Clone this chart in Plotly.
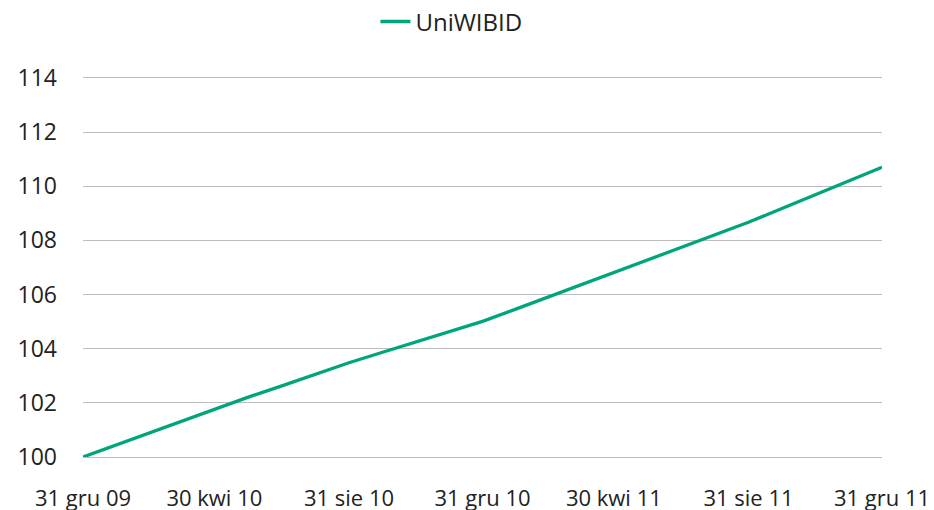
import plotly.graph_objects as go

# Data (month-end index values)
dates = [
    "2009-12-31", "2010-01-31", "2010-02-28", "2010-03-31", "2010-04-30",
    "2010-05-31", "2010-06-30", "2010-07-31", "2010-08-31", "2010-09-30",
    "2010-10-31", "2010-11-30", "2010-12-31", "2011-01-31", "2011-02-28",
    "2011-03-31", "2011-04-30", "2011-05-31", "2011-06-30", "2011-07-31",
    "2011-08-31", "2011-09-30", "2011-10-31", "2011-11-30", "2011-12-31",
]
uniwibid = [
    100.00, 100.46, 100.875, 101.335, 101.78,
    102.21, 102.62, 103.05, 103.48, 103.86,
    104.25, 104.62, 105.01, 105.47, 105.89,
    106.36, 106.81, 107.28, 107.73, 108.20,
    108.67, 109.17, 109.69, 110.19, 110.70,
]
tick_dates = ["2009-12-31", "2010-04-30", "2010-08-31", "2010-12-31",
              "2011-04-30", "2011-08-31", "2011-12-31"]
tick_labels = ["31 gru 09", "30 kwi 10", "31 sie 10", "31 gru 10",
               "30 kwi 11", "31 sie 11", "31 gru 11"]
y_ticks = [100, 102, 104, 106, 108, 110, 112, 114]

FONT = "Open Sans"
TXT = "#222222"
GRID = "#BDBDBD"

fig = go.Figure()
fig.add_trace(go.Scatter(
    x=dates, y=uniwibid, mode="lines", name="UniWIBID",
    line=dict(color="#00A57C", width=3.3),
    cliponaxis=False,
))

fig.update_layout(
    width=934, height=510,
    margin=dict(l=83, r=52, t=78, b=53, autoexpand=False),
    paper_bgcolor="white", plot_bgcolor="white",
    font=dict(family=FONT, size=23, color=TXT),
    showlegend=True,
    legend=dict(
        orientation="h", x=0.366, xanchor="left", y=1.148, yanchor="middle",
        font=dict(family=FONT, size=24, color=TXT),
        bgcolor="rgba(0,0,0,0)", borderwidth=0,
    ),
    xaxis=dict(
        type="date",
        range=["2009-12-31", "2011-12-31"],
        tickmode="array", tickvals=tick_dates, ticktext=tick_labels,
        showgrid=False, zeroline=False,
        showline=True, linecolor=GRID, linewidth=1, mirror=True,
        ticks="",
        ticklabelstandoff=22, automargin=False,
        tickfont=dict(family=FONT, size=22, color=TXT),
    ),
    yaxis=dict(
        range=[100, 114],
        tickmode="array", tickvals=y_ticks,
        showgrid=True, gridcolor=GRID, gridwidth=1,
        zeroline=False, showline=False, ticks="",
        ticklabelstandoff=25, automargin=False,
        tickfont=dict(family=FONT, size=23, color=TXT),
    ),
)

fig.write_html(
    "out.html",
    config={"displayModeBar": False},
    post_script="document.body.style.margin='0';document.body.style.overflow='hidden';",
)
